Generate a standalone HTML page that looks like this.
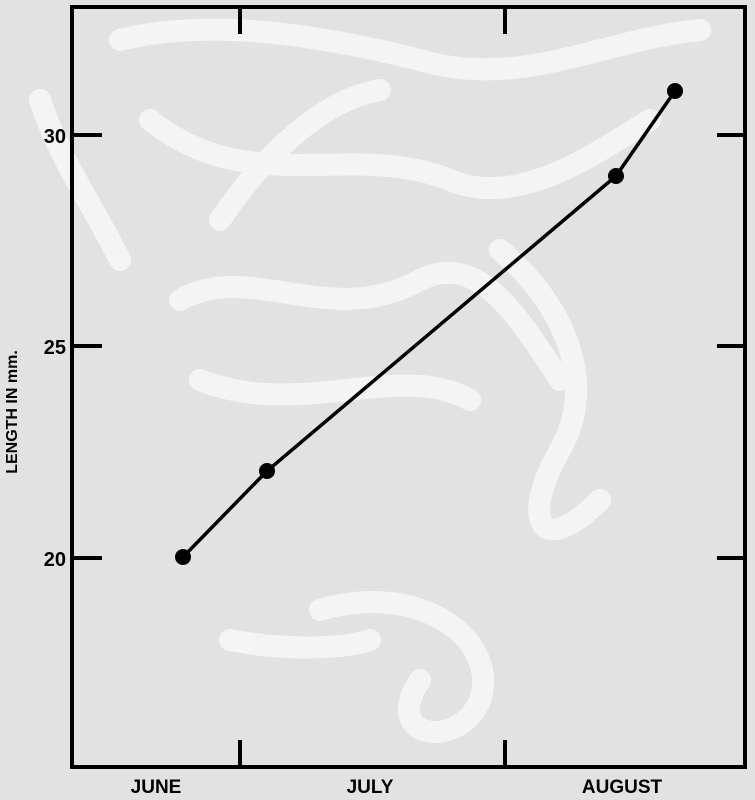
<!DOCTYPE html>
<html><head><style>
html,body{margin:0;padding:0;background:#e4e4e4;}
svg{display:block;}
text{font-family:"Liberation Sans",sans-serif;font-weight:bold;fill:#000;}
</style></head><body>
<svg width="755" height="800" viewBox="0 0 755 800" xmlns="http://www.w3.org/2000/svg">
<rect width="755" height="800" fill="#e2e2e2"/>
<g fill="none" stroke="#f7f7f7" stroke-width="22" stroke-linecap="round" opacity="0.9">
<path d="M120 40 C200 20 300 30 420 60 C520 90 600 40 700 30"/>
<path d="M150 120 C250 200 350 140 450 180 C520 210 600 150 650 120"/>
<path d="M180 300 C250 260 330 330 420 280 C480 250 520 320 560 380"/>
<path d="M200 380 C300 420 400 360 470 400"/>
<path d="M40 100 C60 160 90 200 120 260"/>
<path d="M500 250 C560 300 600 380 560 450 C520 520 540 560 600 500"/>
<path d="M320 610 C420 580 500 640 480 700 C460 750 380 740 420 680"/>
<path d="M230 640 C280 650 340 650 370 640"/>
<path d="M220 220 C260 160 320 100 380 90"/>
</g>
<g stroke="#000" stroke-width="4" fill="none">
<path d="M72 767 L72 7 L745 7 L745 767 Z"/>
<line x1="240" y1="7" x2="240" y2="34"/>
<line x1="505" y1="7" x2="505" y2="34"/>
<line x1="240" y1="767" x2="240" y2="740"/>
<line x1="505" y1="767" x2="505" y2="740"/>
<line x1="72" y1="135" x2="102" y2="135"/>
<line x1="72" y1="346" x2="102" y2="346"/>
<line x1="72" y1="558" x2="102" y2="558"/>
<line x1="745" y1="135" x2="717" y2="135"/>
<line x1="745" y1="346" x2="717" y2="346"/>
<line x1="745" y1="558" x2="717" y2="558"/>
</g>
<polyline points="183,557 267,471 616,176 675,91" fill="none" stroke="#000" stroke-width="3.5"/>
<g fill="#000">
<circle cx="183" cy="557" r="8"/>
<circle cx="267" cy="471" r="8"/>
<circle cx="616" cy="176" r="8"/>
<circle cx="675" cy="91" r="8"/>
</g>
<text x="66" y="143" font-size="20" text-anchor="end">30</text>
<text x="66" y="354" font-size="20" text-anchor="end">25</text>
<text x="66" y="566" font-size="20" text-anchor="end">20</text>
<text transform="translate(17,412) rotate(-90)" font-size="16" text-anchor="middle">LENGTH IN mm.</text>
<text x="156" y="793" font-size="19" text-anchor="middle">JUNE</text>
<text x="370" y="793" font-size="19" text-anchor="middle">JULY</text>
<text x="622" y="793" font-size="19" text-anchor="middle">AUGUST</text>
</svg>
</body></html>
